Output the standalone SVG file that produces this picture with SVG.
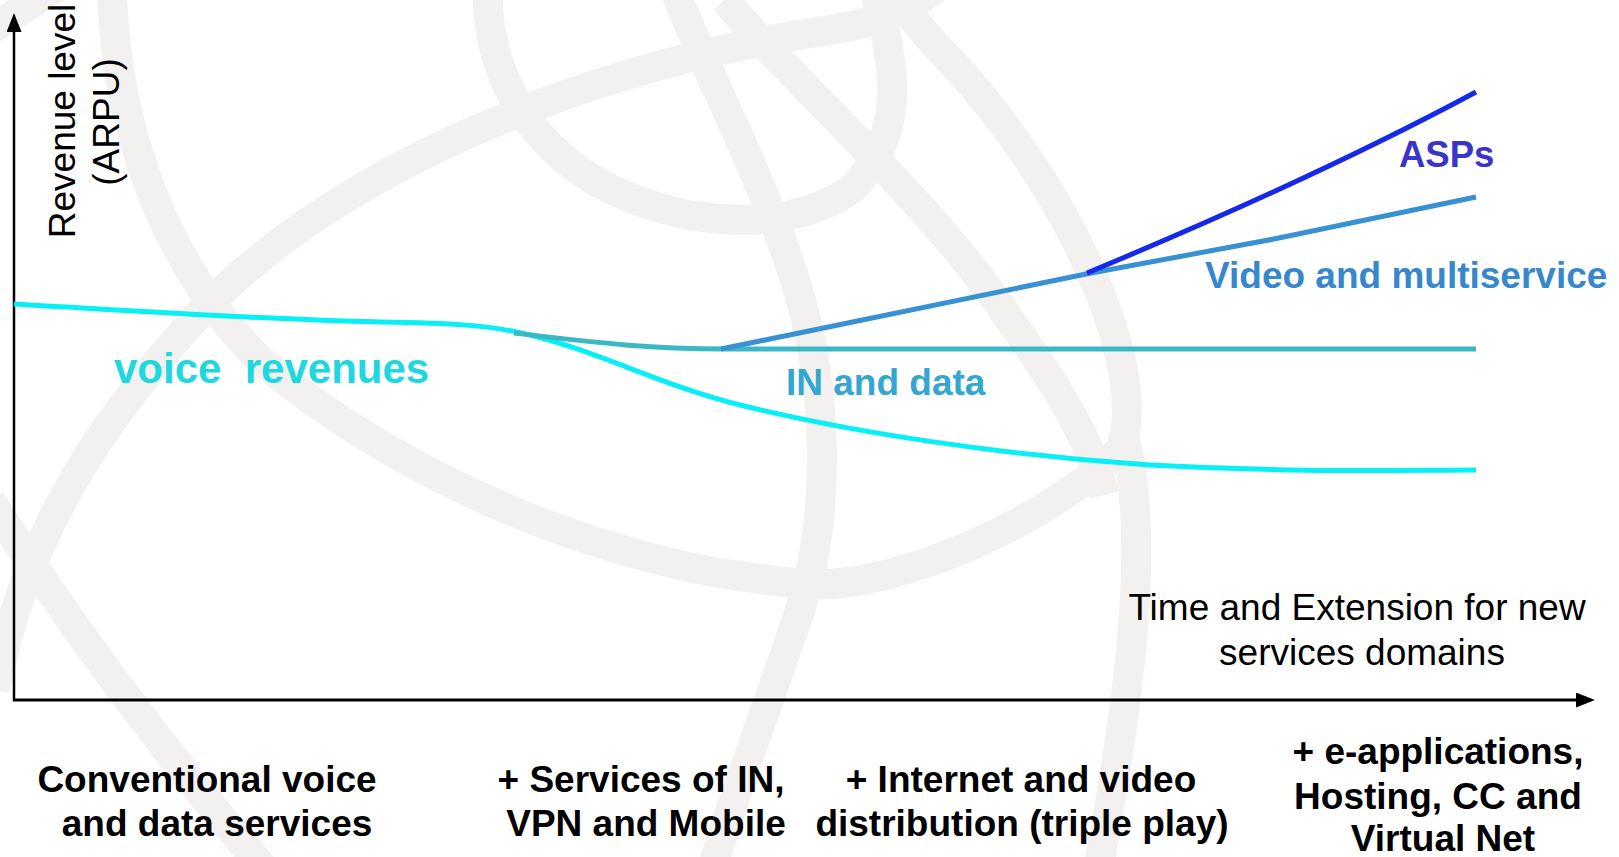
<svg xmlns="http://www.w3.org/2000/svg" width="1619" height="857" viewBox="0 0 1619 857">
<defs>
<style>
.wm{fill:none;stroke:#f2f1ef;stroke-width:30}
.t{font-family:"Liberation Sans",Arial,Helvetica,sans-serif;font-size:37px}
.b{font-weight:bold}
.cat{font-family:"Liberation Sans",Arial,Helvetica,sans-serif;font-size:37px;font-weight:bold;fill:#000;text-anchor:middle}
.axis{stroke:#000;fill:none}
.crv{fill:none;stroke-width:5;stroke-linecap:butt;stroke-linejoin:round}
</style>
<marker id="arr" markerUnits="userSpaceOnUse" markerWidth="20" markerHeight="16" refX="1" refY="7.5" orient="auto">
<path d="M0,0 L19,7.5 L0,15 Z" fill="#000"/>
</marker>
</defs>
<rect width="1619" height="857" fill="#fff"/>
<g id="watermark">
<path class="wm" d="M-10,30 L60,-15"/>
<path class="wm" d="M112,-10 C115,120 160,260 260,360 C390,470 600,570 810,584 C900,588 1050,520 1120,450 C1150,380 1080,200 950,60 C920,30 905,10 895,-10"/>
<path class="wm" d="M1125,440 C1150,540 1130,700 1098,870"/>
<path class="wm" d="M-5,690 C20,560 80,440 207,306 C330,180 560,70 830,30 C870,24 910,10 940,-15"/>
<path class="wm" d="M-10,500 C60,610 150,735 265,870"/>
<path class="wm" d="M488,-10 C485,80 540,170 650,205 C720,228 800,225 850,190 C885,160 898,110 890,60 C886,30 880,10 875,-10"/>
<path class="wm" d="M675,-10 C700,60 760,170 795,280 C830,390 830,520 800,610 C770,700 735,790 712,870"/>
<path class="wm" d="M725,0 C800,90 930,200 1010,320 C1060,390 1090,440 1105,495"/>
</g>
<g id="axes">
<line class="axis" x1="14" y1="701" x2="14" y2="31" stroke-width="2.5" marker-end="url(#arr)"/>
<line class="axis" x1="13" y1="700" x2="1577" y2="700" stroke-width="3" marker-end="url(#arr)"/>
<text class="t" fill="#000" text-anchor="middle" transform="translate(75,121) rotate(-90)">Revenue level</text>
<text class="t" fill="#000" text-anchor="middle" transform="translate(119,122) rotate(-90)">(ARPU)</text>
<text class="t" fill="#000" text-anchor="middle" x="1357" y="620">Time and Extension for new</text>
<text class="t" fill="#000" text-anchor="middle" x="1362" y="665">services domains</text>
</g>
<g id="connectors">
<path id="voice-curve" class="crv" stroke="#08eff5" d="M14,304 C120,310 250,319 380,322 C450,323 490,325 530,335 C600,352 660,385 740,405 C850,432 1000,455 1150,465 C1300,473 1400,470 1476,470"/>
<path id="in-curve" class="crv" stroke="#3cb8c4" d="M514,333 C600,343 650,349 725,349 L1476,349"/>
<path id="video-curve" class="crv" stroke="#3791d2" d="M721,349 L1086,274 L1274,239 L1476,197"/>
<path id="asp-curve" class="crv" stroke="#1628eb" stroke-width="6" d="M1087,273 C1200,226 1340,165 1476,92"/>
</g>
<g id="voice">
<text class="t b" fill="#20d7e0" style="font-size:42px" x="114" y="383" xml:space="preserve">voice  revenues</text>
</g>
<g id="in-data">
<text class="t b" fill="#34a6d2" x="786" y="395">IN and data</text>
</g>
<g id="video">
<text class="t b" fill="#3787cd" x="1205" y="288">Video and multiservice</text>
</g>
<g id="asps">
<text class="t b" fill="#3a34c8" style="font-size:36.5px" x="1399" y="167">ASPs</text>
</g>
<g id="stage1">
<text class="cat" x="207" y="792">Conventional voice</text>
<text class="cat" x="217" y="836">and data services</text>
</g>
<g id="stage2">
<text class="cat" x="641" y="792">+ Services of IN,</text>
<text class="cat" x="646" y="836">VPN and Mobile</text>
</g>
<g id="stage3">
<text class="cat" x="1021" y="792">+ Internet and video</text>
<text class="cat" x="1022" y="836">distribution (triple play)</text>
</g>
<g id="stage4">
<text class="cat" x="1438" y="764">+ e-applications,</text>
<text class="cat" x="1438" y="809">Hosting, CC and</text>
<text class="cat" x="1443" y="851">Virtual Net</text>
</g>
</svg>
